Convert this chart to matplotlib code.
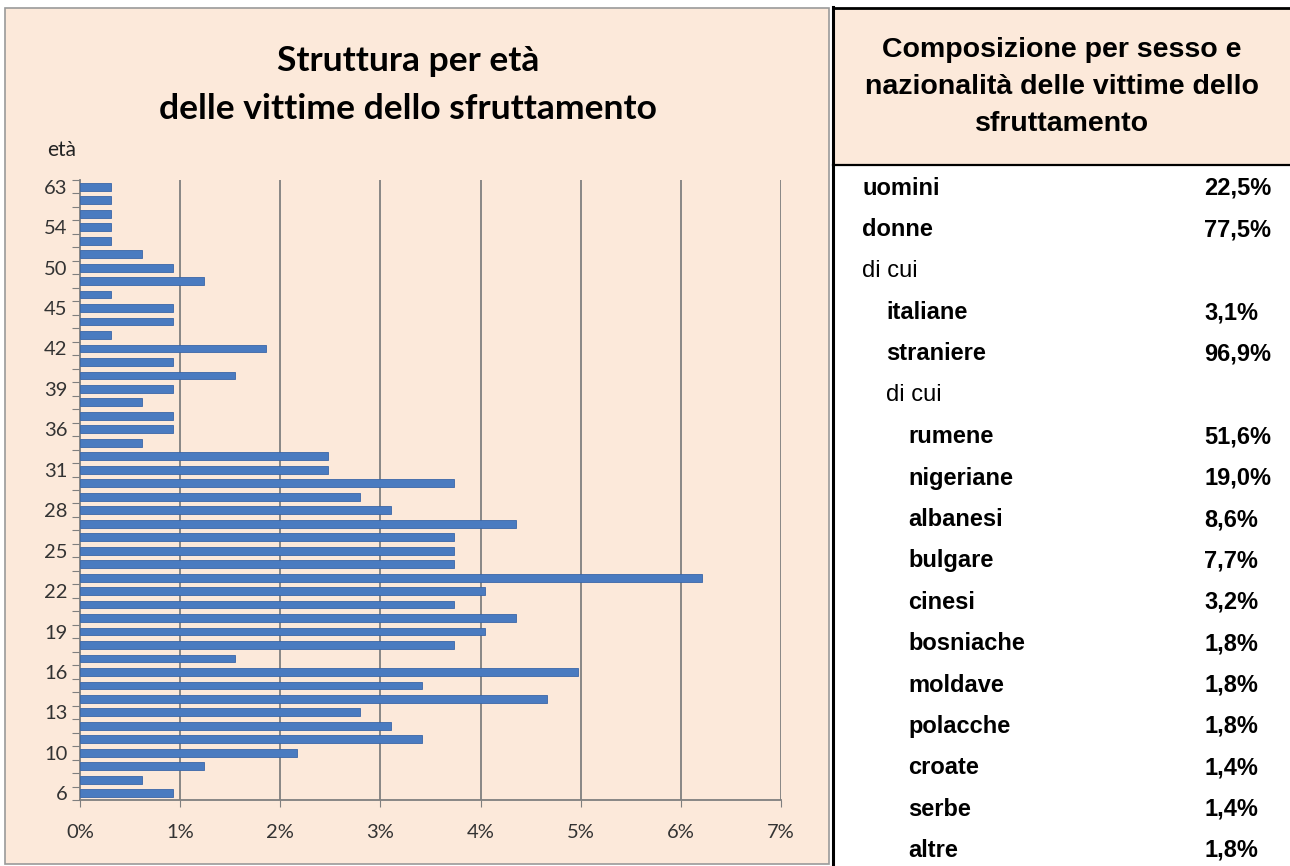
import numpy as np
import matplotlib.pyplot as plt
from matplotlib.patches import Rectangle

# age categories, bottom to top (only every third one is labelled)
ages = [6, 8, 9, 10, 11, 12, 13, 14, 15, 16, 17, 18, 19, 20, 21, 22, 23, 24, 25,
        26, 27, 28, 29, 30, 31, 32, 34, 36, 37, 38, 39, 40, 41, 42, 43, 44, 45,
        47, 48, 50, 51, 52, 54, 56, 59, 63]
# share of victims (%)
shares = [0.93, 0.62, 1.24, 2.17, 3.42, 3.11, 2.80, 4.66, 3.42, 4.97, 1.55, 3.73,
          4.04, 4.35, 3.73, 4.04, 6.21, 3.73, 3.73, 3.73, 4.35, 3.11, 2.80, 3.73,
          2.48, 2.48, 0.62, 0.93, 0.93, 0.62, 0.93, 1.55, 0.93, 1.86, 0.31, 0.93,
          0.93, 0.31, 1.24, 0.93, 0.62, 0.31, 0.31, 0.31, 0.31, 0.31]

x_ticks = [0, 1, 2, 3, 4, 5, 6, 7]
x_labels = ["0%", "1%", "2%", "3%", "4%", "5%", "6%", "7%"]

# right-hand table
tab_title = "Composizione per sesso e\nnazionalità delle vittime dello\nsfruttamento"
tab_labels = ["uomini", "donne", "di cui", "italiane", "straniere", "di cui",
              "rumene", "nigeriane", "albanesi", "bulgare", "cinesi", "bosniache",
              "moldave", "polacche", "croate", "serbe", "altre"]
tab_values = ["22,5%", "77,5%", "", "3,1%", "96,9%", "", "51,6%", "19,0%", "8,6%",
              "7,7%", "3,2%", "1,8%", "1,8%", "1,8%", "1,4%", "1,4%", "1,8%"]
tab_levels = [0, 0, 0, 1, 1, 1, 2, 2, 2, 2, 2, 2, 2, 2, 2, 2, 2]
tab_bold = [True, True, False, True, True, False] + [True] * 11

W, H = 1290, 866
peach = "#FCE9DA"
bar_col = "#4A7BC0"
grid_col = "#7F7F7F"

fig = plt.figure(figsize=(W / 100, H / 100), dpi=100)
fig.patch.set_facecolor("white")

# overlay in pixel coords for panels and table
bg = fig.add_axes([0, 0, 1, 1])
bg.set_xlim(0, W)
bg.set_ylim(H, 0)
bg.axis("off")
bg.add_patch(Rectangle((5, 8), 824, 856, facecolor=peach, edgecolor="#9A9A9A", lw=1.2))
bg.add_patch(Rectangle((833, 8), W - 833, 157, facecolor=peach, edgecolor="none"))
bg.add_patch(Rectangle((833, 165), W - 833, H - 165, facecolor="white", edgecolor="none"))
bg.plot([833, 833], [7, H], color="black", lw=2.2)
bg.plot([833, W], [8, 8], color="black", lw=2)
bg.plot([833, W], [165, 165], color="black", lw=1.6)

bg.text(408, 61, "Struttura per età", ha="center", va="center",
        fontsize=25.5, fontweight="bold", family="Lato")
bg.text(408, 109, "delle vittime dello sfruttamento", ha="center", va="center",
        fontsize=25.5, fontweight="bold", family="Lato")
bg.text(47, 150, "età", ha="left", va="center", fontsize=15, family="Lato", color="#222222")

bg.text(1062, 87, tab_title, ha="center", va="center", fontsize=20.5,
        fontweight="bold", family="Liberation Sans", linespacing=1.55)

indent = {0: 862, 1: 886, 2: 908}
for i, (lab, val, lev, b) in enumerate(zip(tab_labels, tab_values, tab_levels, tab_bold)):
    y = 186 + i * 41.375
    bg.text(indent[lev], y, lab, ha="left", va="center_baseline", fontsize=17,
            fontweight="bold" if b else "normal", family="Liberation Sans")
    if val:
        bg.text(1204, y, val, ha="left", va="center_baseline", fontsize=17,
                fontweight="bold", family="Liberation Sans")

# bar chart
ax = fig.add_axes([80 / W, (H - 800) / H, (781 - 80) / W, (800 - 180) / H])
ax.set_facecolor("none")
pos = np.arange(len(ages))
ax.barh(pos, shares, height=0.58, color=bar_col, edgecolor="#3A66A8", lw=0.6, zorder=3)
ax.set_xlim(0, 7)
ax.set_ylim(-0.5, len(ages) - 0.5)

ax.set_xticks(x_ticks)
ax.set_xticklabels(x_labels, fontsize=14.5, family="Lato", color="#333333")
ax.tick_params(axis="x", length=5, color=grid_col, pad=12)
for xv in x_ticks[1:]:
    ax.axvline(xv, color=grid_col, lw=1.3, zorder=1)

ax.set_yticks(np.arange(len(ages) + 1) - 0.5)
ax.set_yticklabels([])
ax.tick_params(axis="y", which="major", length=6, color=grid_col, direction="out")
lab_pos = pos[::3]
ax.set_yticks(lab_pos, minor=True)
ax.set_yticklabels([str(ages[i]) for i in lab_pos], minor=True, fontsize=14.5,
                   family="Lato", color="#333333")
ax.tick_params(axis="y", which="minor", length=0, pad=9)

for s in ["top", "right"]:
    ax.spines[s].set_visible(False)
for s in ["left", "bottom"]:
    ax.spines[s].set_color(grid_col)
    ax.spines[s].set_linewidth(1.3)

plt.savefig("out.png", dpi=100)
